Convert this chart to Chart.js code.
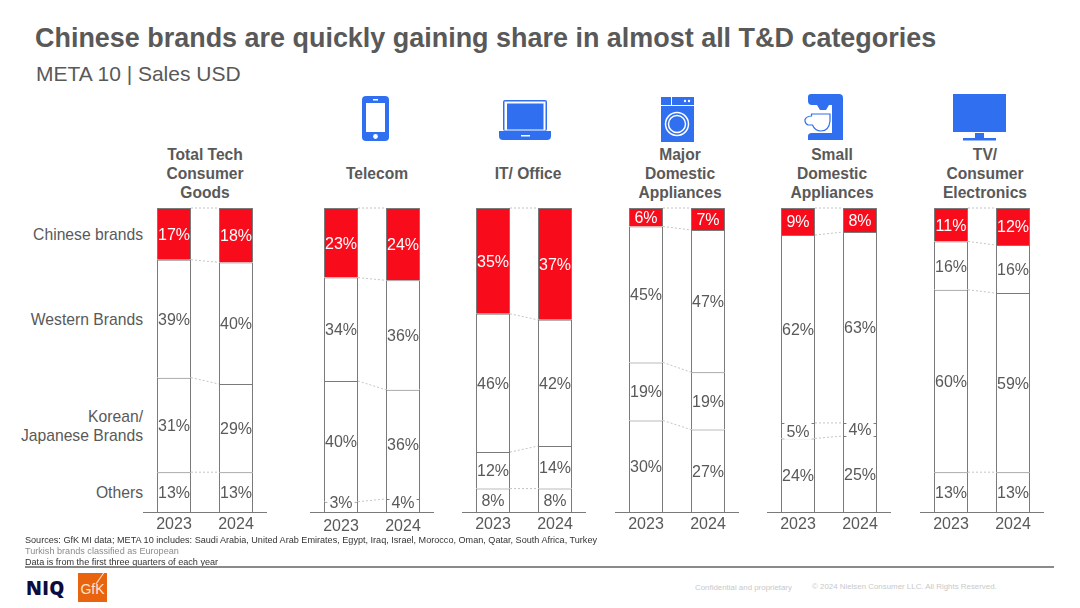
<!DOCTYPE html>
<html><head><meta charset="utf-8">
<script src="https://cdn.jsdelivr.net/npm/chart.js@4"></script>
<style>
html,body{margin:0;padding:0;background:#fff;width:1080px;height:608px;overflow:hidden;font-family:"Liberation Sans",Arial,sans-serif;color:#595959}
.t{position:absolute;white-space:nowrap}
.cat{position:absolute;text-align:center;font-weight:bold;font-size:15.6px;line-height:19px;width:140px}
.row{position:absolute;text-align:right;font-size:15.7px;line-height:19px;right:937px;white-space:nowrap}
canvas{position:absolute}
svg{position:absolute;left:0;top:0}
</style></head><body>
<div class="t" style="left:35px;top:23px;font-size:26.95px;font-weight:bold">Chinese brands are quickly gaining share in almost all T&amp;D categories</div>
<div class="t" style="left:36px;top:62px;font-size:21px">META 10 | Sales USD</div>
<svg width="1080" height="608" fill="#2f6ff0">
 <rect x="362" y="96" width="27" height="45" rx="4"/><rect x="366" y="103" width="19" height="29" fill="#fff"/><rect x="373" y="99" width="5" height="1.5" fill="#fff"/><circle cx="375.5" cy="136.5" r="2.4" fill="#fff"/>
 <rect x="503" y="100" width="44" height="31" rx="2"/><rect x="504.5" y="101.5" width="41" height="29" fill="#fff"/><rect x="507" y="103.5" width="36.5" height="26"/>
 <path d="M499 131H551V136Q551 140 547 140H503Q499 140 499 136Z"/><rect x="521" y="135" width="9" height="1.5" fill="#fff"/>
 <rect x="661" y="97" width="10" height="8"/><rect x="672" y="97" width="22" height="8"/><circle cx="685" cy="101" r="1.2" fill="#fff"/><circle cx="689" cy="101" r="1.2" fill="#fff"/>
 <rect x="661" y="106" width="33" height="36"/><circle cx="677" cy="124" r="11.5" fill="none" stroke="#fff" stroke-width="1.5"/><circle cx="677" cy="124" r="8.5" fill="none" stroke="#fff" stroke-width="1.5"/>
 <path d="M811 94H839Q843 94 843 98V140H808V136Q808 133 812 133H832V105H812Q808 105 808 101V97Q808 94 811 94Z"/><path d="M817 105H829L826 110H820Z"/>
 <path d="M811.5 114H830V121Q829 131 821 131Q815 131 812.5 125H808Q804.5 123 805 119.5Q806 116.5 811.5 116Z" fill="#fff" stroke="#2f6ff0" stroke-width="1.2"/>
 <rect x="953" y="94" width="53" height="38"/><rect x="975" y="133" width="9" height="5"/><rect x="963" y="138" width="33" height="2.5"/>
</svg>
<div class="cat" style="left:135px;top:145px">Total Tech<br>Consumer<br>Goods</div>
<div class="cat" style="left:307px;top:164px">Telecom</div>
<div class="cat" style="left:458px;top:164px">IT/ Office</div>
<div class="cat" style="left:610px;top:145px">Major<br>Domestic<br>Appliances</div>
<div class="cat" style="left:762px;top:145px">Small<br>Domestic<br>Appliances</div>
<div class="cat" style="left:915px;top:145px">TV/<br>Consumer<br>Electronics</div>
<div class="row" style="top:225px">Chinese brands</div>
<div class="row" style="top:310px">Western Brands</div>
<div class="row" style="top:407px">Korean/<br>Japanese Brands</div>
<div class="row" style="top:483px">Others</div>
<div id="charts"></div>
<div class="t" style="left:25px;top:535px;font-size:9.1px;color:#333">Sources: GfK MI data; META 10 includes: Saudi Arabia, United Arab Emirates, Egypt, Iraq, Israel, Morocco, Oman, Qatar, South Africa, Turkey</div>
<div class="t" style="left:25px;top:546px;font-size:9.1px;color:#8c8c8c">Turkish brands classified as European</div>
<div class="t" style="left:25px;top:557px;font-size:9.1px;color:#333">Data is from the first three quarters of each year</div>
<div style="position:absolute;left:25px;top:566px;width:1029px;height:1.5px;background:#8a8a8a"></div>
<div class="t" style="left:695px;top:583px;font-size:7.9px;color:#c9c9c9">Confidential and proprietary</div>
<div class="t" style="left:812px;top:582px;font-size:7.9px;color:#c9c9c9">© 2024 Nielsen Consumer LLC. All Rights Reserved.</div>
<div class="t" style="left:26px;top:576px;font:800 19px/24px 'Open Sans',sans-serif;color:#0c0c40;letter-spacing:.4px">NIQ</div>
<div style="position:absolute;left:78px;top:573px;width:29px;height:29px;background:#e8640f;color:#fde3cf;font-size:14px;line-height:32px;text-align:center;overflow:hidden">GfK<div style="position:absolute;left:22px;top:-3px;width:1.2px;height:15px;background:#fde3cf;transform:rotate(35deg)"></div></div>
<script>
const panels = ["Total Tech Consumer Goods","Telecom","IT/ Office","Major Domestic Appliances","Small Domestic Appliances","TV/ Consumer Electronics"];
const years = ["2023","2024"];
const others         = [[13.1,13.1],[3.4,4.3],[7.7,7.7],[30.1,27.1],[24.2,25.0],[13.1,13.1]];
const koreanJapanese = [[31.1,29.0],[39.7,35.9],[12.0,14.0],[19.1,18.9],[5.1,4.3],[60.0,58.9]];
const western        = [[38.8,40.0],[34.0,36.0],[45.5,41.5],[44.7,46.8],[61.8,62.8],[15.9,15.8]];
const chinese        = [[17.0,17.9],[22.9,23.8],[34.8,36.8],[6.1,7.2],[8.9,7.9],[11.0,12.2]];
const seriesNames = ["Others","Korean/ Japanese Brands","Western Brands","Chinese brands"];

const panelLeft = [143,310,462,615,767,920];
const RED = "#f80c1c", LINE = "#7a7a7a", TEXT = "#595959";

const overlay = {
  id:"overlay",
  afterDatasetsDraw(chart){
    const c = chart.ctx, y = chart.scales.y;
    const sets = chart.data.datasets;
    const m0 = chart.getDatasetMeta(0).data, bw = m0[0].width;
    const rx = m0[0].x + bw/2, lx = m0[1].x - bw/2;
    c.save(); c.strokeStyle = "#c4c4c4"; c.lineWidth = 1; c.setLineDash([2,2]);
    let a = 0, b = 0;
    sets.forEach(d=>{
      a += d.data[0]; b += d.data[1];
      c.beginPath(); c.moveTo(rx, y.getPixelForValue(a)); c.lineTo(lx, y.getPixelForValue(b)); c.stroke();
    });
    c.restore();
    c.save(); c.font = "16px 'Liberation Sans'"; c.textAlign = "center"; c.textBaseline = "middle";
    [0,1].forEach(i=>{
      let s = 0;
      sets.forEach((d,k)=>{
        const v = d.data[i];
        const top = y.getPixelForValue(s+v), bot = y.getPixelForValue(s);
        s += v;
        const cy = Math.min((top+bot)/2, y.bottom-10);
        const x = chart.getDatasetMeta(k).data[i].x;
        const txt = Math.round(v)+"%";
        if (bot-top < 18 && k!==3) {
          const w = c.measureText(txt).width + 4;
          c.fillStyle = "#fff";
          c.fillRect(x-w/2, cy-9, w, 18);
        }
        c.fillStyle = k===3 ? "#fff" : TEXT;
        c.fillText(txt, x, cy+1.5);
      });
    });
    c.restore();
  }
};

panels.forEach((name,p)=>{
  const cv = document.createElement("canvas");
  cv.style.left = panelLeft[p]+"px"; cv.style.top = "200px";
  cv.style.width = "124px"; cv.style.height = "340px";
  cv.width = 124; cv.height = 340;
  document.getElementById("charts").appendChild(cv);
  const mk = (label,data,bg)=>({label,data,backgroundColor:bg,borderColor:LINE,borderWidth:1,
    barPercentage:1,categoryPercentage:0.5484});
  new Chart(cv,{
    type:"bar",
    data:{labels:years,datasets:[
      mk(seriesNames[0],others[p],"#fff"),
      mk(seriesNames[1],koreanJapanese[p],"#fff"),
      mk(seriesNames[2],western[p],"#fff"),
      mk(seriesNames[3],chinese[p],RED)
    ]},
    options:{
      responsive:false,animation:false,devicePixelRatio:1,
      layout:{padding:{top:8,left:0,right:0,bottom:0}},
      plugins:{legend:{display:false},tooltip:{enabled:false},title:{display:false}},
      scales:{
        x:{stacked:true,offset:true,
          grid:{display:false,drawTicks:false},
          border:{display:true,color:LINE,width:1},
          ticks:{color:TEXT,font:{size:16,family:"'Liberation Sans'"},padding:p===1?5:3,maxRotation:0,autoSkip:false},
          afterFit(s){s.height=28;}},
        y:{stacked:true,display:false,min:0,max:100}
      }
    },
    plugins:[overlay]
  });
});
</script>
</body></html>
